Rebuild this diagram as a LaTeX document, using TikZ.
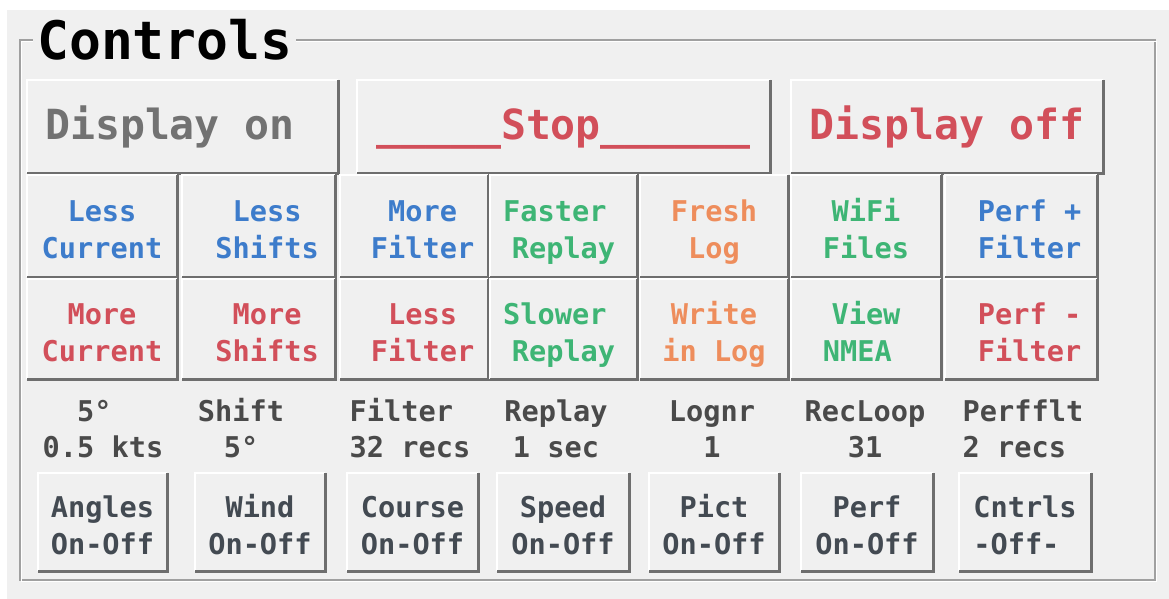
\documentclass[tikz,border=0pt]{standalone}
\usepackage{fontspec}
\setmonofont{DejaVu Sans Mono}
\definecolor{PanelBg}{HTML}{F0F0F0}
\definecolor{FrameGray}{HTML}{A0A0A0}
\definecolor{BtnShade}{HTML}{6E6E6E}
\definecolor{BtnBlue}{HTML}{3D7CCB}
\definecolor{BtnRed}{HTML}{D24F5A}
\definecolor{BtnGreen}{HTML}{3EB575}
\definecolor{BtnOrange}{HTML}{EE8D5C}
\definecolor{DispGray}{HTML}{727272}
\definecolor{ValGray}{HTML}{4A4A4A}
\definecolor{OffGray}{HTML}{434A52}
\newcommand\SmallFont{\ttfamily\bfseries\fontsize{28.6}{36.5}\selectfont}
\newcommand\BigFont{\ttfamily\bfseries\fontsize{41.5}{48}\selectfont}
\newcommand\Blank{\hphantom{0}}
\newcommand\Top{\rule{0pt}{35pt}}
\newcommand\Bot{\rule[-7pt]{0pt}{7pt}}
\newcommand\CtrlButton[6]{%
    \fill[PanelBg] (#2,#3) rectangle (#4,#5);
    \draw[btnlight] (#2,#5) -- (#2,#3) -- (#4,#3);
    \draw[btnshade] (#2,#5) -- (#4,#5) -- (#4,#3);
    \node[btntext] (#1) at ({(#2+#4)/2},{(#3+#5)/2}) {\Top #6\Bot};
}

\begin{document}
\begin{tikzpicture}[x=1pt,y=-1pt,font=\SmallFont,
    btnlight/.style={draw=white,line width=2pt},
    btnshade/.style={draw=BtnShade,line width=3pt},
    btntext/.style={inner sep=0pt,align=center},
    valtext/.style={inner sep=0pt,align=center,text=ValGray}]
    \useasboundingbox (0,0) rectangle (1169,599);
    \fill[white] (0,0) rectangle (1169,599);
    \fill[PanelBg] (7,10) rectangle (1169,599);
    % group frame
    \draw[FrameGray,line width=1.5pt] (20,40) rectangle (1155,580);
    \draw[white,line width=1pt] (21.5,41.5) rectangle (1156.5,581.5);
    \node[anchor=base west,fill=PanelBg,inner xsep=4pt,inner ysep=2pt,
        font=\ttfamily\bfseries\fontsize{53}{60}\selectfont] (title) at (33,60) {Controls};
    \begin{scope}[font=\BigFont,color=DispGray] % display on
        \CtrlButton{dispon}{27}{80}{338}{173}{Display on\Blank}
    \end{scope}
    \begin{scope}[font=\BigFont,color=BtnRed] % stop, display off
        \CtrlButton{stop}{357}{80}{770}{173}{\_\_\_\_\_Stop\_\_\_\_\_\_}
        \CtrlButton{dispoff}{791}{80}{1103}{173}{Display off}
    \end{scope}
    \begin{scope}[color=BtnBlue] % less / more
        \CtrlButton{lesscur}{27}{175}{177}{277}{Less\\Current}
        \CtrlButton{lessshift}{182}{175}{335}{277}{\Blank Less\\\Blank Shifts}
        \CtrlButton{morefilt}{340}{175}{488}{277}{\Blank More\\\Blank Filter}
        \CtrlButton{perfplus}{945}{175}{1097}{277}{\Blank Perf +\\\Blank Filter}
    \end{scope}
    \begin{scope}[color=BtnRed]
        \CtrlButton{morecur}{27}{279}{177}{379}{More\\Current}
        \CtrlButton{moreshift}{182}{279}{335}{379}{\Blank More\\\Blank Shifts}
        \CtrlButton{lessfilt}{340}{279}{488}{379}{\Blank Less\\\Blank Filter}
        \CtrlButton{perfminus}{945}{279}{1097}{379}{\Blank Perf -\\\Blank Filter}
    \end{scope}
    \begin{scope}[color=BtnGreen] % replay, wifi, nmea
        \CtrlButton{faster}{490}{175}{637}{277}{Faster\Blank\\Replay}
        \CtrlButton{slower}{490}{279}{637}{379}{Slower\Blank\\Replay}
        \CtrlButton{wifi}{791}{175}{941}{277}{WiFi\\Files}
        \CtrlButton{nmea}{791}{279}{941}{379}{View\\NMEA\Blank}
    \end{scope}
    \begin{scope}[color=BtnOrange] % log
        \CtrlButton{freshlog}{640}{175}{788}{277}{Fresh\\Log}
        \CtrlButton{writelog}{640}{279}{788}{379}{Write\\in Log}
    \end{scope}
    % values
    \node[valtext] (valangles) at (103,425.5) {\Top 5°\Blank\\0.5 kts\Bot};
    \node[valtext] (valshift) at (241,425.5) {\Top Shift\\5°\Bot};
    \node[valtext] (valfilter) at (410,425.5) {\Top Filter\Blank\\32 recs\Bot};
    \node[valtext] (valreplay) at (556,425.5) {\Top Replay\\1 sec\Bot};
    \node[valtext] (vallognr) at (712,425.5) {\Top Lognr\\1\Bot};
    \node[valtext] (valloop) at (865,425.5) {\Top RecLoop\\31\Bot};
    \node[valtext] (valperf) at (1023,425.5) {\Top Perfflt\\2 recs\Blank\Bot};
    \begin{scope}[color=OffGray] % on-off
        \CtrlButton{angles}{38}{473}{167}{571}{Angles\\On-Off}
        \CtrlButton{wind}{195}{473}{325}{571}{Wind\\On-Off}
        \CtrlButton{course}{347}{473}{478}{571}{Course\\On-Off}
        \CtrlButton{speed}{497}{473}{629}{571}{Speed\\On-Off}
        \CtrlButton{pict}{649}{473}{779}{571}{Pict\\On-Off}
        \CtrlButton{perf}{801}{473}{933}{571}{Perf\\On-Off}
        \CtrlButton{cntrls}{959}{473}{1091}{571}{Cntrls\\-Off-\Blank}
    \end{scope}
\end{tikzpicture}
\end{document}
